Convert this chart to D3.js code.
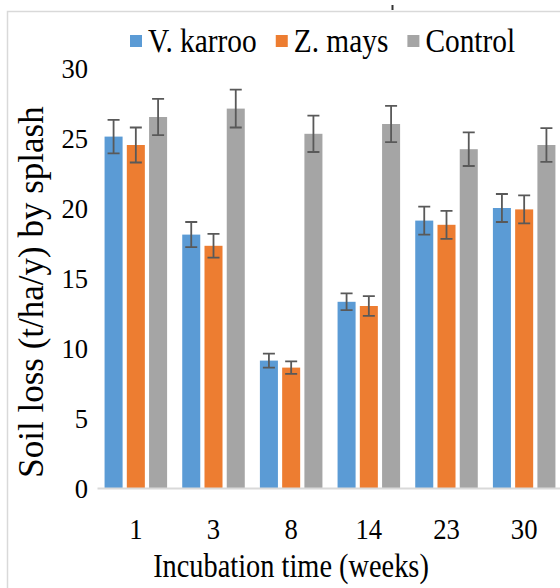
<!DOCTYPE html>
<html>
<head>
<meta charset="utf-8">
<script src="https://cdn.jsdelivr.net/npm/d3@7"></script>
<style>
  body { margin: 0; background: #fff; }
  svg { display: block; }
</style>
</head>
<body>
<div id="chart"></div>
<script>
// data
const weeks = ["1", "3", "8", "14", "23", "30"];
const seriesNames = ["V. karroo", "Z. mays", "Control"];
const karroo = [25.1, 18.1, 9.1, 13.3, 19.1, 20.0];
const mays = [24.5, 17.3, 8.6, 13.0, 18.8, 19.9];
const control = [26.5, 27.1, 25.3, 26.0, 24.2, 24.5];
const karrooErr = [1.2, 0.9, 0.5, 0.6, 1.0, 1.0];
const maysErr = [1.25, 0.85, 0.45, 0.7, 1.0, 1.0];
const controlErr = [1.3, 1.35, 1.3, 1.3, 1.2, 1.2];
const yTicks = [0, 5, 10, 15, 20, 25, 30];
const colors = ["#5b9bd5", "#ed7d31", "#a5a5a5"];

const width = 560, height = 588;
const margin = { top: 68, right: -3, bottom: 100, left: 97 };
const font = "Liberation Serif";

const values = [karroo, mays, control];
const errors = [karrooErr, maysErr, controlErr];
const rows = [];
weeks.forEach((w, i) => {
  seriesNames.forEach((s, j) => {
    rows.push({ week: w, series: s, value: values[j][i], err: errors[j][i], color: colors[j] });
  });
});

const svg = d3.select("#chart").append("svg")
  .attr("width", width)
  .attr("height", height)
  .attr("font-family", font);

// outer chart frame
svg.append("path")
  .attr("d", `M7.5,${height}V11.5H${width}`)
  .attr("fill", "none")
  .attr("stroke", "#d9d9d9")
  .attr("stroke-width", 1.5);
svg.append("line")
  .attr("x1", 392.5).attr("x2", 392.5).attr("y1", 5).attr("y2", 10)
  .attr("stroke", "#333").attr("stroke-width", 2);

const x0 = d3.scaleBand()
  .domain(weeks)
  .range([margin.left, width - margin.right]);

const x1 = d3.scaleBand()
  .domain(seriesNames)
  .range([0, x0.bandwidth()])
  .paddingInner(0.19)
  .paddingOuter(0.34);

const y = d3.scaleLinear()
  .domain([0, 30])
  .range([height - margin.bottom, margin.top]);

// text squeezed horizontally like the source image
function squeeze(sel, sx) {
  sel.each(function () {
    const t = d3.select(this);
    const xx = +t.attr("x") || 0;
    const yy = +t.attr("y") || 0;
    t.attr("x", 0).attr("y", 0)
      .attr("transform", `translate(${xx},${yy}) scale(${sx},1)`);
  });
}

// y axis
const yAxis = svg.append("g")
  .attr("transform", `translate(${margin.left},0)`)
  .call(d3.axisLeft(y).tickValues(yTicks).tickSize(0).tickPadding(9))
  .attr("font-family", font)
  .attr("font-size", 28);
yAxis.select(".domain").remove();
yAxis.selectAll("text")
  .attr("fill", "#000")
  .attr("dy", "0.34em")
  .call(squeeze, 0.95);

// bars
svg.append("g")
  .selectAll("rect")
  .data(rows)
  .join("rect")
  .attr("x", d => x0(d.week) + x1(d.series))
  .attr("y", d => y(d.value))
  .attr("width", x1.bandwidth())
  .attr("height", d => y(0) - y(d.value))
  .attr("fill", d => d.color);

// error bars
const eb = svg.append("g")
  .attr("stroke", "#595959")
  .attr("stroke-width", 1.8)
  .attr("fill", "none");
eb.selectAll("path")
  .data(rows)
  .join("path")
  .attr("d", d => {
    const cx = x0(d.week) + x1(d.series) + x1.bandwidth() / 2;
    const top = y(d.value + d.err), bot = y(d.value - d.err);
    return `M${cx - 6},${top}H${cx + 6}M${cx},${top}V${bot}M${cx - 6},${bot}H${cx + 6}`;
  });

// x axis
const xAxis = svg.append("g")
  .attr("transform", `translate(0,${y(0)})`)
  .call(d3.axisBottom(x0).tickSize(0).tickPadding(30))
  .attr("font-family", font)
  .attr("font-size", 29);
xAxis.select(".domain")
  .attr("stroke", "#d9d9d9")
  .attr("stroke-width", 2);
xAxis.selectAll("text")
  .attr("fill", "#000")
  .call(squeeze, 0.92);

// axis titles
svg.append("text")
  .attr("x", 291)
  .attr("y", 577)
  .attr("text-anchor", "middle")
  .attr("font-family", font)
  .attr("font-size", 33)
  .text("Incubation time (weeks)")
  .call(squeeze, 0.86);

svg.append("text")
  .attr("transform", `translate(43,292) rotate(-90)`)
  .attr("text-anchor", "middle")
  .attr("font-family", font)
  .attr("font-size", 35)
  .text("Soil loss (t/ha/y) by splash");

// legend
const legend = svg.append("g").attr("transform", "translate(130,0)");
let lx = 0;
seriesNames.forEach((s, j) => {
  legend.append("rect")
    .attr("x", lx).attr("y", 35)
    .attr("width", 12).attr("height", 12)
    .attr("fill", colors[j]);
  const t = legend.append("text")
    .attr("x", lx + 18)
    .attr("y", 52)
    .attr("font-family", font)
    .attr("font-size", 33)
    .text(s);
  const w = t.node().getComputedTextLength() * 0.89;
  t.call(squeeze, 0.89);
  lx += 18 + w + 19;
});
</script>
</body>
</html>
